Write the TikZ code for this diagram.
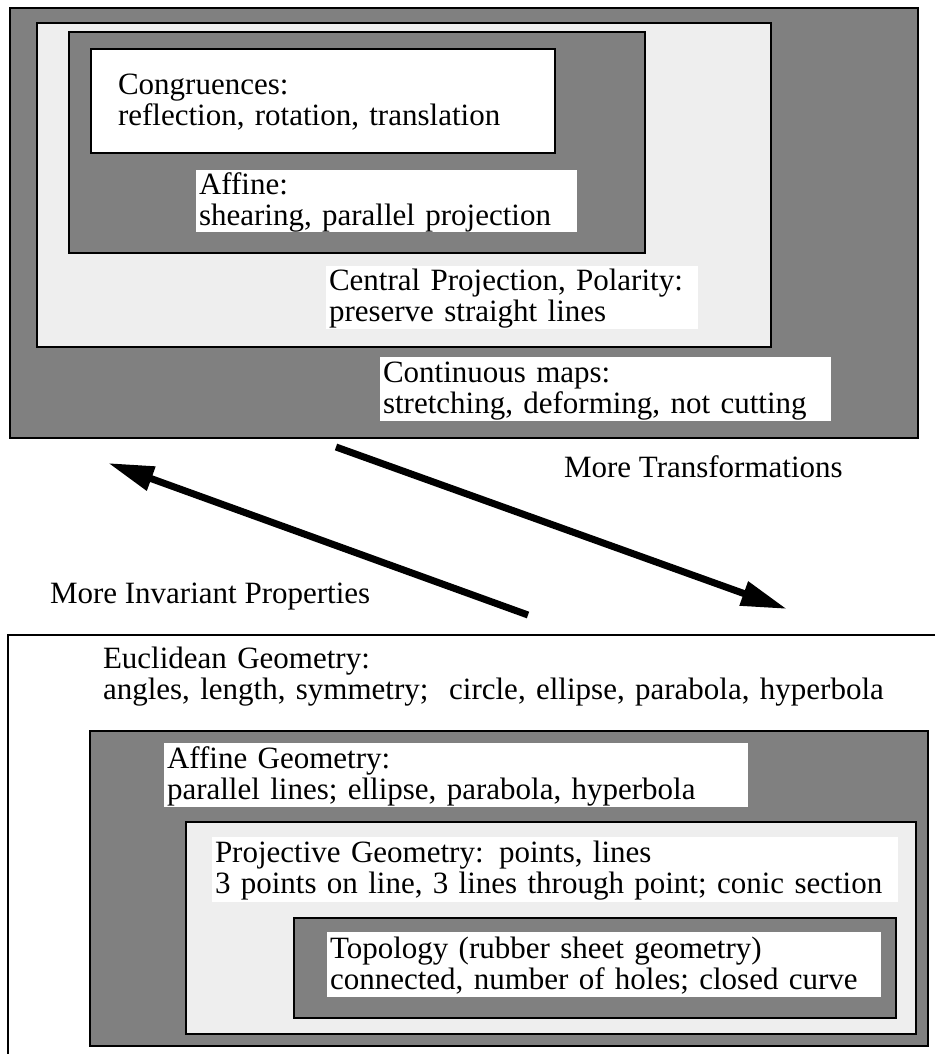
\documentclass[tikz,border=0pt]{standalone}
\usepackage{fontspec}
\setmainfont{Liberation Serif}
\usepackage{tikz}
\usetikzlibrary{arrows.meta,positioning}
\definecolor{ink}{HTML}{000000}
\definecolor{shade}{HTML}{808080}
\definecolor{pale}{HTML}{EEEEEE}
\newcommand{\lstrut}{\rule[-6pt]{0pt}{30pt}}
\newcommand{\tline}[1]{\lstrut\mbox{#1}}

\begin{document}
\begin{tikzpicture}[x=1pt, y=-1pt,
  every node/.style={font=\fontsize{31}{31}\selectfont, inner sep=0pt, outer sep=0pt},
  frame/.style={rectangle, draw=ink, line width=2.5pt, anchor=north west},
  tag/.style={rectangle, fill=white, anchor=north west, inner xsep=3pt, align=left},
  arrow/.style={-{Triangle[length=46pt,width=24pt]}, line width=7pt, draw=ink},
  caption/.style={anchor=base west}
]
\useasboundingbox (0,0) rectangle (935,1054);

% transformations (top)
\node[frame, fill=shade, minimum width=908pt, minimum height=430pt] (maps) at (10,8) {};
\node[frame, fill=pale, minimum width=734pt, minimum height=324pt] (polar) at (37,23) {};
\node[frame, fill=shade, minimum width=576pt, minimum height=221pt] (shear) at (69,32) {};
\node[frame, fill=white, minimum width=464pt, minimum height=104pt, inner xsep=27pt,
      text width=410pt, align=left] (cong) at (91,49)
  {\tline{Congruences:}\\ \tline{reflection, rotation, translation}};
\node[tag, text width=375pt, minimum height=62pt] (affine) at (196,170)
  {\tline{Affine:}\\ \tline{shearing, parallel projection}};
\node[tag, text width=366pt, minimum height=63pt] (central) at (326,266)
  {\tline{Central Projection, Polarity:}\\ \tline{preserve straight lines}};
\node[tag, text width=445pt, minimum height=64pt] (contin) at (380,357)
  {\tline{Continuous maps:}\\ \tline{stretching, deforming, not cutting}};

% direction arrows
\coordinate (tstart) at (336,447);
\coordinate (tend) at (787,609);
\coordinate (istart) at (528,615);
\coordinate (iend) at (108,463);
\draw[arrow] (tstart) -- (tend);
\draw[arrow] (istart) -- (iend);
\node[caption] (moretrans) at (564,477) {More Transformations};
\node[caption] (moreinv) at (50,603) {More Invariant Properties};

% geometries (bottom)
\draw[ink, line width=2.5pt] (935,635) -| (8,1056);
\node[tag, fill=none, text width=820pt] (euclid) at (100,644)
  {\tline{Euclidean Geometry:}\\ \tline{angles, length, symmetry;\ \ circle, ellipse, parabola, hyperbola}};
\node[frame, fill=shade, minimum width=838pt, minimum height=315pt] (affbox) at (90,731) {};
\node[tag, text width=578pt, minimum height=64pt] (affgeo) at (164,743)
  {\tline{Affine Geometry:}\\ \tline{parallel lines; ellipse, parabola, hyperbola}};
\node[frame, fill=pale, minimum width=730pt, minimum height=212pt] (projbox) at (186,822) {};
\node[tag, text width=680pt, minimum height=65pt] (projgeo) at (212,837)
  {\tline{Projective Geometry: points, lines}\\ \tline{3 points on line, 3 lines through point; conic section}};
\node[frame, fill=shade, minimum width=602pt, minimum height=100pt] (topobox) at (294,918) {};
\node[tag, text width=548pt, minimum height=65pt] (topo) at (327,932)
  {\tline{Topology (rubber sheet geometry)}\\ \tline{connected, number of holes; closed curve}};
\end{tikzpicture}
\end{document}
